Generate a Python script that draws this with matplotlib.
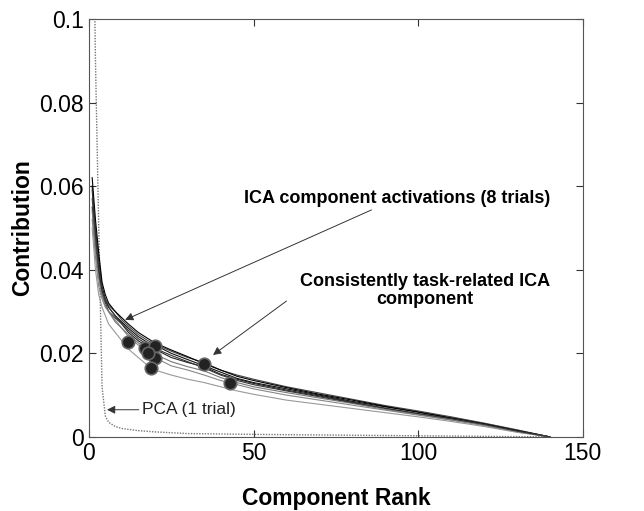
import matplotlib
matplotlib.use("Agg")
import matplotlib.pyplot as plt

plt.rcParams['font.family'] = ['Liberation Sans', 'DejaVu Sans']

ranks = [1, 2, 3, 4, 5, 6, 8, 10, 12, 15, 18, 20, 25, 30, 35, 40, 45, 50,
         60, 70, 80, 90, 100, 110, 120, 130, 140]

# ICA contribution curves, one per trial
ica_1 = [0.060, 0.050, 0.042, 0.036, 0.033, 0.031, 0.029, 0.0275, 0.026, 0.024, 0.0225, 0.022, 0.020, 0.0185,
         0.017, 0.0155, 0.014, 0.013, 0.0115, 0.010, 0.0085, 0.0072, 0.006, 0.0046, 0.0032, 0.0016, 0.0]
ica_2 = [0.055, 0.046, 0.039, 0.034, 0.032, 0.030, 0.0285, 0.027, 0.025, 0.023, 0.0215, 0.021, 0.019, 0.0178,
         0.0168, 0.015, 0.0138, 0.0128, 0.0112, 0.0098, 0.0083, 0.0068, 0.0055, 0.0043, 0.003, 0.0014, 0.0]
ica_3 = [0.052, 0.043, 0.036, 0.033, 0.031, 0.030, 0.028, 0.026, 0.024, 0.022, 0.020, 0.019, 0.017, 0.016,
         0.0148, 0.0135, 0.0125, 0.0115, 0.0100, 0.0088, 0.0076, 0.0064, 0.0052, 0.004, 0.0027, 0.0012, 0.0]
ica_4 = [0.057, 0.048, 0.041, 0.035, 0.033, 0.0315, 0.030, 0.028, 0.0265, 0.0245, 0.023, 0.0222, 0.0205, 0.019,
         0.0178, 0.016, 0.0148, 0.0138, 0.012, 0.0105, 0.009, 0.0075, 0.0062, 0.0048, 0.0033, 0.0017, 0.0]
ica_5 = [0.050, 0.040, 0.034, 0.031, 0.029, 0.027, 0.025, 0.023, 0.021, 0.019, 0.017, 0.016, 0.0148, 0.0138,
         0.013, 0.012, 0.011, 0.0102, 0.0088, 0.0078, 0.0068, 0.0058, 0.0048, 0.0037, 0.0025, 0.0011, 0.0]
ica_6 = [0.062, 0.052, 0.044, 0.037, 0.034, 0.032, 0.030, 0.0285, 0.027, 0.025, 0.0235, 0.0225, 0.0208, 0.0192,
         0.0175, 0.016, 0.0145, 0.0135, 0.0118, 0.0102, 0.0088, 0.0073, 0.0059, 0.0045, 0.0031, 0.0015, 0.0]
ica_7 = [0.054, 0.045, 0.038, 0.034, 0.0315, 0.030, 0.0275, 0.026, 0.0245, 0.0225, 0.021, 0.0198, 0.018, 0.0168,
         0.0158, 0.0142, 0.013, 0.012, 0.0106, 0.0093, 0.008, 0.0066, 0.0054, 0.0041, 0.0029, 0.0013, 0.0]
ica_8 = [0.059, 0.049, 0.040, 0.035, 0.0325, 0.031, 0.029, 0.0272, 0.0255, 0.0235, 0.022, 0.0212, 0.0195, 0.018,
         0.0165, 0.0148, 0.0135, 0.0125, 0.011, 0.0096, 0.0082, 0.0069, 0.0056, 0.0044, 0.003, 0.0014, 0.0]
ica_curves = [ica_1, ica_2, ica_3, ica_4, ica_5, ica_6, ica_7, ica_8]
ica_colors = ['#111111', '#222222', '#888888', '#444444', '#999999', '#000000', '#777777', '#333333']

# PCA (1 trial)
pca_ranks = [1, 2, 3, 4, 5, 6, 8, 10, 15, 20, 30, 50, 80, 110, 140]
pca_vals = [0.15, 0.09, 0.05, 0.012, 0.005, 0.0035, 0.0025, 0.002, 0.0015, 0.0012, 0.0008, 0.0006,
            0.0004, 0.0002, 0.0]

# consistently task-related component, one per trial
task_ranks = [12, 17, 20, 20, 19, 35, 43, 18]
task_vals = [0.0228, 0.0213, 0.0218, 0.0189, 0.0165, 0.0175, 0.0129, 0.0200]

fig = plt.figure(figsize=(6.44, 5.11), dpi=100)
ax = fig.add_axes([0.138, 0.145, 0.767, 0.818])

ax.plot(pca_ranks, pca_vals, color='#777777', lw=1.0, ls=(0, (1, 1)))
for vals, c in zip(ica_curves, ica_colors):
    ax.plot(ranks, vals, color=c, lw=0.8)
ax.plot(task_ranks, task_vals, ls='none', marker='o', ms=9,
        mfc='#222222', mec='#666666', mew=1.2)

ax.set_xlim(0, 150)
ax.set_ylim(0, 0.1)
ax.set_xticks([0, 50, 100, 150])
ax.set_yticks([0, 0.02, 0.04, 0.06, 0.08, 0.1])
ax.set_yticklabels(['0', '0.02', '0.04', '0.06', '0.08', '0.1'])
ax.tick_params(direction='in', top=True, right=True, labelsize=16.5, length=5, width=0.8, colors='#333333',
               labelcolor='black')
for s in ax.spines.values():
    s.set_color('#555555')
    s.set_linewidth(0.8)

ax.set_xlabel('Component Rank', fontsize=16.5, fontweight='bold', labelpad=16)
ax.set_ylabel('Contribution', fontsize=16.5, fontweight='bold', labelpad=4)

arrow = dict(arrowstyle='-|>', color='#333333', lw=0.7, mutation_scale=12, shrinkA=0, shrinkB=0)
ax.annotate('ICA component activations (8 trials)', xy=(11, 0.028), xytext=(47, 0.057),
            fontsize=13, fontweight='bold', ha='left', va='center', arrowprops=arrow)
ax.text(102, 0.035, 'Consistently task-related ICA\ncomponent', fontsize=13, fontweight='bold',
        ha='center', va='center', linespacing=1.1)
ax.annotate('', xy=(37.7, 0.0196), xytext=(60, 0.0325), arrowprops=arrow)
ax.annotate('PCA (1 trial)', xy=(5.5, 0.0065), xytext=(16, 0.0065),
            fontsize=12.5, ha='left', va='center', color='#222222', arrowprops=arrow)

fig.savefig('out.png', dpi=100)
